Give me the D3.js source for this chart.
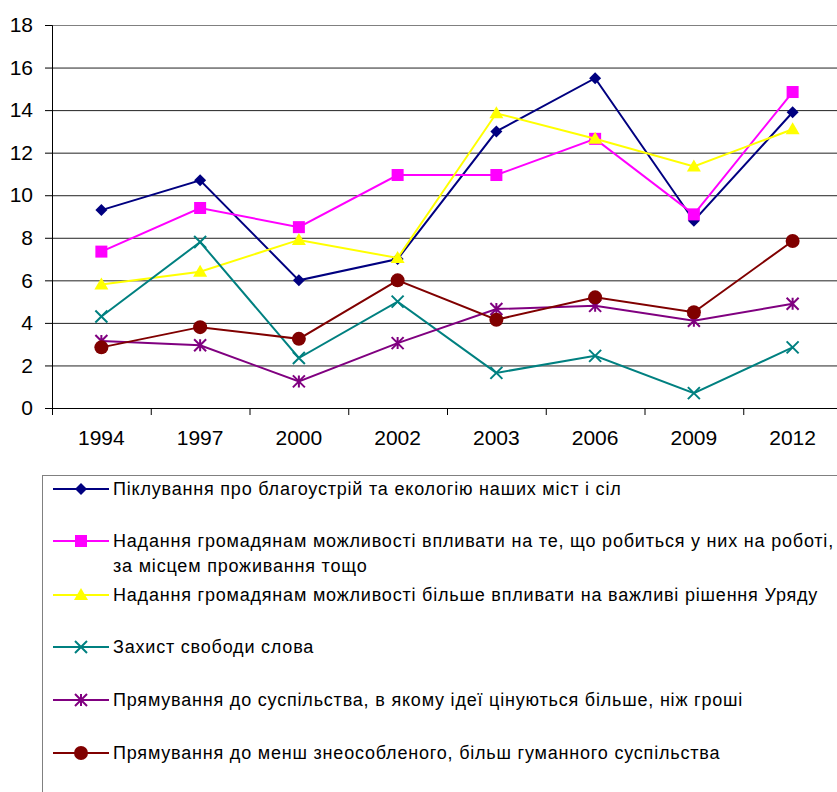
<!DOCTYPE html>
<html lang="uk">
<head>
<meta charset="utf-8">
<title>Chart</title>
<script src="https://cdn.jsdelivr.net/npm/d3@7"></script>
<style>
  body { margin: 0; background: #fff; }
  svg { display: block; }
  .tick text { font-family: "Liberation Sans", Arial, sans-serif; }
  .leg { font-family: "Liberation Sans", Arial, sans-serif; font-size: 18px; letter-spacing: 0.8px; }
</style>
</head>
<body>
<script>
var years = ["1994", "1997", "2000", "2002", "2003", "2006", "2009", "2012"];
var yTicks = [0, 2, 4, 6, 8, 10, 12, 14, 16, 18];

var seriesNames = [
  "Піклування про благоустрій та екологію наших міст і сіл",
  "Надання громадянам можливості впливати на те, що робиться у них на роботі,|за місцем проживання тощо",
  "Надання громадянам можливості більше впливати на важливі рішення Уряду",
  "Захист свободи слова",
  "Прямування до суспільства, в якому ідеї цінуються більше, ніж гроші",
  "Прямування до менш знеособленого, більш гуманного суспільства"
];
var seriesColors = ["#000080", "#ff00ff", "#ffff00", "#008080", "#800080", "#800000"];
var seriesMarkers = ["diamond", "square", "triangle", "cross", "star", "circle"];

var care    = [9.3, 10.7, 6.0, 7.0, 13.0, 15.5, 8.8, 13.9];
var work    = [7.35, 9.4, 8.5, 10.95, 10.95, 12.65, 9.1, 14.85];
var govt    = [5.8, 6.4, 7.9, 7.05, 13.85, 12.65, 11.35, 13.1];
var speech  = [4.3, 7.8, 2.35, 5.0, 1.65, 2.45, 0.7, 2.85];
var ideas   = [3.15, 2.95, 1.25, 3.05, 4.65, 4.8, 4.1, 4.9];
var humane  = [2.85, 3.8, 3.25, 6.0, 4.15, 5.2, 4.5, 7.85];
var allSeries = [care, work, govt, speech, ideas, humane];

var W = 837, H = 792;
var plotL = 52, plotR = 842, plotT = 25, plotB = 408;

var svg = d3.select("body").append("svg")
  .attr("width", W).attr("height", H);

var x = d3.scaleBand().domain(years).range([plotL, plotR]);
var y = d3.scaleLinear().domain([0, 18]).range([plotB, plotT]);

// gridlines
svg.append("g").selectAll("line")
  .data(yTicks.slice(1))
  .join("line")
  .attr("x1", plotL).attr("x2", plotR)
  .attr("y1", d => y(d) + 0.5).attr("y2", d => y(d) + 0.5)
  .attr("stroke", d => d === 18 ? "#808080" : "#222")
  .attr("stroke-width", 1);

// y axis
var yAxis = svg.append("g")
  .attr("transform", "translate(" + plotL + ",0)")
  .call(d3.axisLeft(y).tickValues(yTicks).tickSize(7).tickPadding(12));
yAxis.select(".domain").attr("stroke", "#000");
yAxis.selectAll(".tick line").attr("stroke", "#000");
yAxis.selectAll(".tick text").attr("font-size", 21).attr("fill", "#000");

// x axis
var xAxis = svg.append("g")
  .attr("transform", "translate(0," + plotB + ")")
  .call(d3.axisBottom(x).tickSize(0).tickPadding(22));
xAxis.select(".domain").attr("stroke", "#000");
xAxis.selectAll(".tick text").attr("font-size", 21).attr("fill", "#000");
// category separators
svg.append("g").selectAll("line")
  .data(years)
  .join("line")
  .attr("x1", d => x(d) + 0.5).attr("x2", d => x(d) + 0.5)
  .attr("y1", plotB).attr("y2", plotB + 7)
  .attr("stroke", "#000");

function drawMarker(g, type, color, s) {
  if (type === "diamond") {
    g.append("path").attr("d", "M0," + (-s) + "L" + s + ",0L0," + s + "L" + (-s) + ",0Z").attr("fill", color);
  } else if (type === "square") {
    g.append("rect").attr("x", -s).attr("y", -s).attr("width", 2 * s).attr("height", 2 * s).attr("fill", color);
  } else if (type === "triangle") {
    g.append("path").attr("d", "M0," + (-s - 1) + "L" + (s + 1) + "," + (s - 1) + "L" + (-s - 1) + "," + (s - 1) + "Z").attr("fill", color);
  } else if (type === "cross") {
    g.append("path").attr("d", "M" + (-s) + "," + (-s) + "L" + s + "," + s + "M" + s + "," + (-s) + "L" + (-s) + "," + s)
      .attr("stroke", color).attr("stroke-width", 2);
  } else if (type === "star") {
    g.append("path").attr("d", "M" + (-s) + "," + (-s) + "L" + s + "," + s + "M" + s + "," + (-s) + "L" + (-s) + "," + s + "M0," + (-s) + "L0," + s)
      .attr("stroke", color).attr("stroke-width", 2);
  } else if (type === "circle") {
    g.append("circle").attr("r", s + 1).attr("fill", color);
  }
}

var line = d3.line()
  .x((d, i) => x(years[i]) + x.bandwidth() / 2)
  .y(d => y(d));

allSeries.forEach(function (vals, k) {
  svg.append("path")
    .datum(vals)
    .attr("d", line)
    .attr("fill", "none")
    .attr("stroke", seriesColors[k])
    .attr("stroke-width", 2);
  vals.forEach(function (v, i) {
    var g = svg.append("g")
      .attr("transform", "translate(" + (x(years[i]) + x.bandwidth() / 2) + "," + y(v) + ")");
    drawMarker(g, seriesMarkers[k], seriesColors[k], 6);
  });
});

// legend
var legX = 42, legY = 475;
svg.append("rect")
  .attr("x", legX + 0.5).attr("y", legY + 0.5)
  .attr("width", 820).attr("height", 340)
  .attr("fill", "none").attr("stroke", "#808080");

var rowY = [489, 541, 595, 647, 700, 753];
seriesNames.forEach(function (name, k) {
  var cy = rowY[k];
  svg.append("line")
    .attr("x1", 53).attr("x2", 109).attr("y1", cy).attr("y2", cy)
    .attr("stroke", seriesColors[k]).attr("stroke-width", 2);
  var g = svg.append("g").attr("transform", "translate(81," + cy + ")");
  drawMarker(g, seriesMarkers[k], seriesColors[k], 6);
  name.split("|").forEach(function (part, j) {
    svg.append("text")
      .attr("class", "leg")
      .attr("x", 113).attr("y", cy + 6 + j * 25)
      .attr("fill", "#000")
      .text(part);
  });
});
</script>
</body>
</html>
